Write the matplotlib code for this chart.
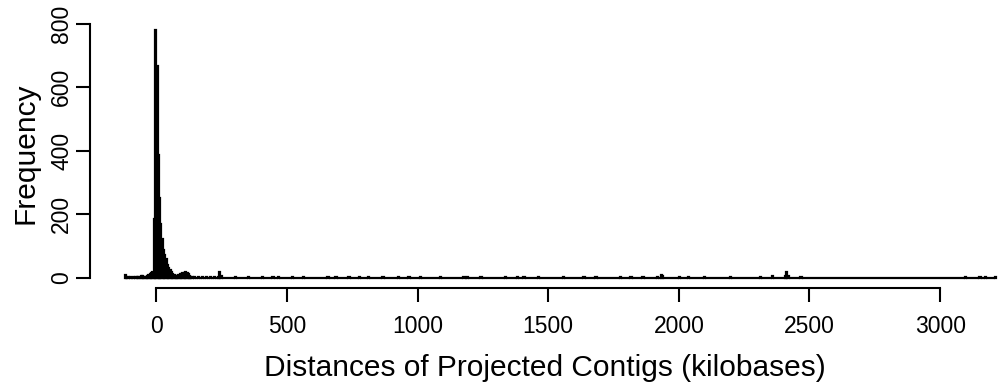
import numpy as np
import matplotlib
matplotlib.use("Agg")
import matplotlib.pyplot as plt

plt.rcParams['font.family'] = ['Liberation Sans', 'DejaVu Sans']

# Histogram of projected contig distances (kb), 5 kb bins
bin_width_kb = 5
range_start_kb = -120
range_end_kb = 3215

# non-empty bins: left edge (kb) and frequency
bin_left_kb = [
    -120, -115, -110, -100, -90, -80, -75, -70, -60, -55, -50, -45, -40, -35,
    -30, -25, -20, -15, -10, -5, 0, 5, 10, 15, 20, 25, 30, 35, 40, 45, 50, 55,
    60, 65, 70, 75, 80, 85, 90, 95, 100, 105, 110, 115, 120, 125, 130, 135,
    145, 160, 175, 190, 205, 220, 235, 240, 245,
    300, 350, 405, 445, 465, 520, 560, 655, 685, 735, 775, 810, 865, 925, 965,
    1010, 1085, 1175, 1190, 1240, 1335, 1380, 1405, 1460, 1555, 1635, 1680,
    1775, 1815, 1860, 1915, 1930, 1935, 2000, 2035, 2095,
    2195, 2310, 2355, 2405, 2410, 2415, 2465, 3095, 3150, 3170, 3210,
]
bin_count = [
    8, 2, 1, 1, 1, 2, 3, 2, 4, 4, 3, 2, 3, 5,
    8, 10, 14, 18, 183, 780, 665, 387, 250, 170, 120, 88, 70, 57, 40, 31, 25, 19,
    12, 8, 6, 5, 6, 8, 10, 12, 14, 16, 17, 16, 12, 5, 3, 2,
    2, 3, 2, 3, 2, 3, 2, 18, 5,
    2, 1, 2, 1, 2, 1, 2, 1, 2, 1, 2, 1, 2, 1, 1,
    2, 2, 3, 2, 1, 2, 2, 3, 2, 1, 1, 1,
    1, 2, 3, 3, 8, 4, 1, 1, 2,
    1, 2, 4, 6, 18, 5, 1, 1, 2, 2, 3,
]

x_ticks = [0, 500, 1000, 1500, 2000, 2500, 3000]
y_ticks = [0, 200, 400, 600, 800]
x_label = "Distances of Projected Contigs (kilobases)"
y_label = "Frequency"

# build full bin table
edges = np.arange(range_start_kb, range_end_kb, bin_width_kb)
counts = np.zeros(len(edges))
for left, c in zip(bin_left_kb, bin_count):
    counts[int(round((left - range_start_kb) / bin_width_kb))] = c

W, H = 999, 383
fig = plt.figure(figsize=(W / 100, H / 100), dpi=100)
ax = fig.add_axes([90 / W, (H - 287.5) / H, (W - 90) / W, (287.5 - 20) / H])

ax.bar(edges, counts, width=bin_width_kb, align='edge', color='black',
       edgecolor='black', linewidth=1.6)

# R-like ranges (4% extension)
span = range_end_kb - range_start_kb
ax.set_xlim(range_start_kb - 0.04 * span, range_start_kb - 0.04 * span + (W - 90) / 0.2613)
ax.set_ylim(-0.04 * max(bin_count), max(bin_count) * 1.04)

for s in ['top', 'right']:
    ax.spines[s].set_visible(False)
ax.spines['left'].set_bounds(y_ticks[0], y_ticks[-1])
ax.spines['bottom'].set_bounds(x_ticks[0], x_ticks[-1])
for s in ['left', 'bottom']:
    ax.spines[s].set_linewidth(1.5)

ax.set_xticks(x_ticks)
ax.set_xticklabels([str(t) for t in x_ticks])
ax.set_yticks(y_ticks)
ax.set_yticklabels([str(t) for t in y_ticks], rotation=90, va='center')
ax.tick_params(axis='both', direction='out', length=10, width=1.5,
               labelsize=16.5, colors='black')
ax.tick_params(axis='x', pad=10)
ax.tick_params(axis='y', pad=2)

ax.set_xlabel(x_label, fontsize=21.5, labelpad=11)
ax.set_ylabel(y_label, fontsize=21.5, labelpad=8)

fig.savefig("out.png", dpi=100)
